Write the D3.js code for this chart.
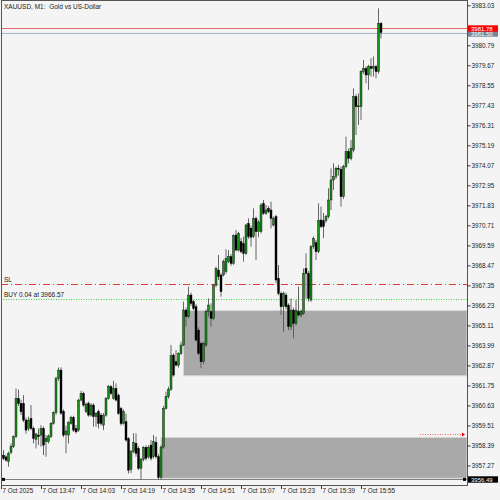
<!DOCTYPE html>
<html>
<head>
<meta charset="utf-8">
<script src="https://cdn.jsdelivr.net/npm/d3@7"></script>
<style>
  body { margin: 0; background: #f4f4f4; }
  svg { display: block; }
  text { font-family: 'Liberation Sans', Arial, sans-serif; }
</style>
</head>
<body>
<script>
// XAUUSD M1 bars from 7 Oct 13:31, one per minute
var opens = [3957.78,3957.85,3957.75,3957.48,3958.00,3958.32,3958.88,3961.02,3960.74,3960.74,3959.81,3959.34,3959.90,3959.34,3958.73,3958.97,3958.97,3959.34,3958.60,3958.60,3958.88,3959.62,3960.22,3962.14,3962.61,3960.30,3959.00,3958.97,3959.62,3959.96,3959.34,3959.25,3960.93,3961.30,3960.28,3960.74,3960.09,3960.65,3960.00,3960.28,3960.09,3959.53,3960.09,3961.02,3961.68,3961.02,3961.58,3961.21,3960.46,3959.62,3959.72,3958.78,3957.05,3958.05,3958.51,3958.23,3957.11,3957.61,3958.28,3957.76,3958.41,3957.76,3958.56,3957.76,3956.60,3958.30,3960.47,3961.12,3961.53,3963.45,3963.08,3962.89,3963.54,3964.01,3965.97,3965.60,3966.81,3966.44,3966.16,3964.85,3964.10,3963.08,3964.01,3965.88,3965.88,3965.50,3967.37,3968.21,3967.93,3967.93,3968.12,3968.68,3968.96,3968.58,3970.17,3969.33,3969.80,3969.70,3969.14,3970.82,3970.55,3970.08,3971.10,3970.36,3970.36,3971.94,3971.38,3971.66,3971.57,3970.73,3971.20,3967.74,3966.90,3966.16,3966.81,3966.25,3965.04,3965.97,3965.22,3965.88,3965.69,3965.78,3968.30,3968.02,3966.53,3969.52,3969.74,3969.24,3971.01,3970.97,3970.97,3971.20,3972.13,3973.25,3973.45,3973.90,3973.85,3972.32,3974.00,3974.84,3974.46,3974.93,3977.92,3977.36,3977.36,3979.32,3979.50,3979.13,3979.60,3979.50,3979.60,3979.32,3982.02]
var highs = [3958.05,3958.13,3957.85,3958.04,3958.50,3958.95,3961.58,3961.52,3960.95,3961.21,3959.95,3960.00,3960.65,3959.45,3959.10,3959.34,3959.53,3959.45,3958.97,3959.00,3959.70,3960.30,3962.24,3962.76,3962.76,3960.40,3959.50,3959.75,3960.05,3960.05,3959.53,3961.00,3961.45,3961.40,3960.80,3960.85,3960.75,3960.75,3960.25,3960.40,3960.20,3960.20,3961.10,3961.77,3961.77,3962.01,3961.86,3961.30,3960.55,3960.40,3960.18,3958.85,3958.15,3959.07,3959.07,3958.35,3957.70,3958.35,3958.40,3958.40,3958.69,3958.98,3958.88,3957.90,3958.40,3960.60,3961.40,3961.68,3964.01,3963.54,3963.73,3963.60,3964.20,3966.44,3966.10,3967.28,3966.95,3966.53,3966.30,3965.00,3964.20,3964.20,3966.00,3966.62,3966.35,3967.40,3968.40,3969.05,3968.05,3968.80,3969.37,3969.33,3969.10,3970.20,3970.45,3970.35,3970.00,3970.08,3970.80,3971.10,3970.70,3971.66,3971.20,3971.00,3971.94,3972.13,3971.85,3971.80,3972.04,3971.20,3971.30,3968.49,3967.00,3967.00,3966.95,3966.35,3966.62,3966.10,3966.53,3967.28,3966.00,3968.30,3969.14,3968.15,3969.60,3970.08,3969.90,3971.94,3971.76,3971.40,3971.30,3972.78,3973.90,3974.18,3974.00,3974.10,3974.00,3974.10,3975.68,3975.00,3975.49,3978.38,3978.05,3978.10,3979.40,3979.97,3979.60,3979.70,3980.06,3980.16,3979.70,3982.86,3982.10]
var lows = [3957.55,3957.57,3957.48,3957.20,3957.90,3958.25,3958.80,3960.60,3960.10,3959.70,3959.05,3959.20,3959.25,3958.50,3958.22,3958.41,3958.32,3957.85,3957.76,3958.50,3958.80,3959.55,3960.10,3962.00,3960.10,3958.85,3957.95,3958.50,3959.55,3959.15,3959.05,3959.15,3960.85,3960.55,3960.20,3960.00,3960.00,3959.44,3959.44,3959.34,3959.50,3959.25,3960.00,3960.95,3961.20,3960.95,3960.85,3960.10,3959.50,3959.55,3958.60,3956.82,3956.85,3957.95,3957.76,3957.01,3956.49,3957.50,3957.55,3957.65,3957.55,3957.65,3957.65,3956.49,3956.49,3958.20,3960.40,3961.00,3961.45,3962.24,3962.80,3962.75,3963.45,3963.95,3965.04,3965.50,3966.20,3965.97,3964.20,3963.45,3962.71,3962.95,3963.90,3965.60,3965.04,3965.40,3967.25,3967.65,3966.72,3967.85,3968.00,3968.60,3968.45,3968.50,3969.25,3969.25,3969.15,3968.68,3969.05,3969.95,3969.52,3970.00,3968.77,3970.05,3970.25,3971.30,3971.30,3971.40,3970.54,3970.65,3967.46,3966.80,3965.69,3964.76,3966.00,3964.85,3964.85,3964.39,3965.10,3965.60,3965.55,3965.70,3966.62,3966.44,3966.44,3969.40,3968.77,3969.15,3970.55,3970.00,3970.85,3971.10,3971.57,3972.69,3973.30,3973.50,3971.76,3972.20,3973.90,3974.18,3974.35,3974.80,3975.77,3976.33,3976.61,3979.20,3978.66,3978.29,3979.04,3979.04,3978.94,3979.20,3981.18]
var closes = [3957.70,3957.66,3957.57,3957.94,3958.35,3958.88,3961.02,3960.74,3960.28,3959.81,3959.25,3959.81,3959.34,3958.78,3959.03,3958.88,3959.34,3958.41,3958.78,3958.92,3959.62,3960.22,3962.14,3962.61,3960.20,3958.97,3959.20,3959.66,3959.96,3959.25,3959.15,3960.93,3961.30,3960.65,3960.69,3960.09,3960.65,3960.00,3960.20,3959.62,3959.62,3960.09,3961.02,3961.71,3961.30,3961.58,3960.93,3960.18,3959.62,3960.28,3958.69,3957.00,3958.05,3958.56,3957.95,3957.11,3957.61,3958.28,3957.67,3958.28,3957.67,3958.60,3957.76,3956.60,3958.30,3960.47,3961.12,3961.53,3963.41,3962.33,3962.89,3963.54,3964.01,3965.97,3965.60,3966.81,3966.34,3966.06,3964.29,3963.54,3963.08,3964.10,3965.88,3966.25,3965.50,3967.37,3968.30,3967.84,3967.00,3968.68,3968.86,3968.96,3968.58,3970.13,3969.33,3970.26,3969.24,3969.14,3970.73,3970.08,3970.05,3971.10,3970.36,3970.90,3971.85,3971.38,3971.57,3971.48,3971.10,3971.10,3967.65,3966.90,3966.16,3966.90,3966.16,3965.04,3965.97,3965.22,3965.97,3965.69,3965.88,3968.02,3968.02,3966.62,3969.52,3969.98,3969.24,3970.97,3970.64,3970.64,3971.20,3972.13,3973.25,3973.45,3973.90,3973.85,3972.32,3974.00,3974.84,3974.46,3975.02,3977.92,3977.36,3977.40,3979.32,3979.50,3979.13,3979.60,3979.50,3979.60,3979.32,3982.02,3981.50]

var priceTicks = [3957.27,3958.39,3959.51,3960.63,3961.75,3962.87,3963.99,3965.11,3966.23,3967.35,3968.47,3969.59,3970.71,3971.83,3972.95,3974.07,3975.19,3976.31,3977.43,3978.55,3979.67,3980.79,3983.03]
var timeTicks = [0,16,32,48,64,80,96,112,128,144]
var timeLabels = ['7 Oct 2025','7 Oct 13:47','7 Oct 14:03','7 Oct 14:19','7 Oct 14:35','7 Oct 14:51','7 Oct 15:07','7 Oct 15:23','7 Oct 15:39','7 Oct 15:55']

var bid = 3981.50, ask = 3981.78
var slPrice = 3967.45, buyPrice = 3966.57
var hLine = 3956.49, arrowPrice = 3959.03
// rectangles: start bar, top price, bottom price (run to right edge)
var zones = [
  {bar: 73, top: 3965.94, bottom: 3962.29},
  {bar: 64, top: 3958.84, bottom: 3956.55}
]

var bars = opens.map((o, i) => ({i, o, h: highs[i], l: lows[i], c: closes[i]}))

var W = 500, H = 500
var plotL = 1, plotR = 467, plotT = 1, plotB = 486

var svg = d3.select('body').append('svg').attr('width', W).attr('height', H)
svg.append('rect').attr('width', W).attr('height', H).attr('fill', '#f4f4f4')

var x = d3.scaleLinear().domain([0, 152]).range([1, 381])
var y = d3.scaleLinear().domain([3956.12, 3983.27]).range([plotB, plotT])
var yPx = p => Math.round(y(p)) + 0.5

svg.append('clipPath').attr('id', 'plot')
  .append('rect').attr('x', plotL).attr('y', plotT)
  .attr('width', plotR - plotL).attr('height', plotB - plotT)

var plot = svg.append('g').attr('clip-path', 'url(#plot)')

// zones
zones.forEach(z => {
  plot.append('rect')
    .attr('x', x(z.bar)).attr('y', y(z.top))
    .attr('width', plotR - x(z.bar)).attr('height', y(z.bottom) - y(z.top))
    .attr('fill', '#a9a9a9').attr('stroke', '#d8d8d8').attr('stroke-width', 1)
})

function hline(p, color, dash){
  plot.append('line').attr('x1', plotL).attr('x2', plotR)
    .attr('y1', yPx(p)).attr('y2', yPx(p))
    .attr('stroke', color).attr('stroke-dasharray', dash || null)
}

// bid / ask lines
hline(ask, '#e46a6a')
hline(bid, '#a8b6cc')

// SL + buy lines
hline(slPrice, '#ea3a3a', '7,3,1,3')
hline(buyPrice, '#3fd03f', '1,1.5')

plot.append('text').attr('x', 4).attr('y', yPx(slPrice) - 3)
  .attr('font-size', 6.5).attr('fill', '#222').text('SL')
plot.append('text').attr('x', 4).attr('y', yPx(buyPrice) - 3)
  .attr('font-size', 6.5).attr('fill', '#222').text('BUY 0.04 at ' + buyPrice.toFixed(2))

// bottom horizontal line
hline(hLine, '#808080')
plot.append('rect').attr('x', 2).attr('y', y(hLine) - 1.5).attr('width', 3).attr('height', 3).attr('fill', '#000')
plot.append('rect').attr('x', plotR - 4).attr('y', y(hLine) - 1.5).attr('width', 3).attr('height', 3).attr('fill', '#000')

// red dotted marker
plot.append('line').attr('x1', 420).attr('x2', plotR - 3)
  .attr('y1', yPx(arrowPrice)).attr('y2', yPx(arrowPrice))
  .attr('stroke', '#f06060').attr('stroke-dasharray', '1,1.5')
plot.append('path')
  .attr('d', `M${plotR - 5},${yPx(arrowPrice) - 2}L${plotR - 2},${yPx(arrowPrice)}L${plotR - 5},${yPx(arrowPrice) + 2}Z`)
  .attr('fill', '#e00000')

// candles
var bw = 2
var cg = plot.append('g')
cg.selectAll('line.wick').data(bars).join('line')
  .attr('x1', d => x(d.i)).attr('x2', d => x(d.i))
  .attr('y1', d => y(d.h)).attr('y2', d => y(d.l))
  .attr('stroke', '#555').attr('stroke-width', 0.9)
cg.selectAll('rect.body').data(bars).join('rect')
  .attr('x', d => x(d.i) - bw / 2)
  .attr('y', d => y(Math.max(d.o, d.c)))
  .attr('width', bw)
  .attr('height', d => Math.max(1, Math.abs(y(d.o) - y(d.c))))
  .attr('fill', d => d.c >= d.o ? '#1a921a' : '#000')
  .attr('stroke', '#000').attr('stroke-width', 0.4)

// frame
svg.append('rect').attr('x', plotL + 0.5).attr('y', plotT - 0.5)
  .attr('width', plotR - plotL).attr('height', plotB - plotT)
  .attr('fill', 'none').attr('stroke', '#555')

// price axis
var yAxis = d3.axisRight(y).tickValues(priceTicks).tickSize(3).tickFormat(d => d.toFixed(2))
var ya = svg.append('g').attr('transform', `translate(${plotR + 0.5},0)`).call(yAxis)
ya.select('.domain').remove()
ya.selectAll('line').attr('stroke', '#333')
ya.selectAll('text').attr('font-size', 6.3).attr('fill', '#222').attr('x', 4)
  .attr('font-family', "'Liberation Sans', Arial, sans-serif")

// time axis
var xAxis = d3.axisBottom(x).tickValues(timeTicks).tickSize(3).tickFormat((d, i) => timeLabels[i])
var xa = svg.append('g').attr('transform', `translate(0,${plotB})`).call(xAxis)
xa.select('.domain').remove()
xa.selectAll('line').attr('stroke', '#333')
xa.selectAll('text').attr('font-size', 6.3).attr('fill', '#222')
  .attr('text-anchor', 'start').attr('x', 1).attr('dy', '0.45em').attr('y', 4.5)
  .attr('font-family', "'Liberation Sans', Arial, sans-serif")

// price boxes on the axis
function priceBox(p, fill, txt){
  var g = svg.append('g').attr('transform', `translate(${plotR + 1},${yPx(p)})`)
  g.append('rect').attr('x', 0).attr('y', -3.2).attr('width', 30).attr('height', 6.4).attr('fill', fill)
  g.append('text').attr('x', 3).attr('y', 2.1).attr('font-size', 6).attr('fill', txt).text(p.toFixed(2))
}
priceBox(bid, '#778899', '#fff')
priceBox(ask, '#ff0000', '#fff')
priceBox(hLine, '#000', '#fff')

// title
svg.append('text').attr('x', 4).attr('y', 8.5).attr('font-size', 6.5).attr('fill', '#222')
  .attr('xml:space', 'preserve').text('XAUUSD, M1:  Gold vs US-Dollar')
</script>
</body>
</html>
